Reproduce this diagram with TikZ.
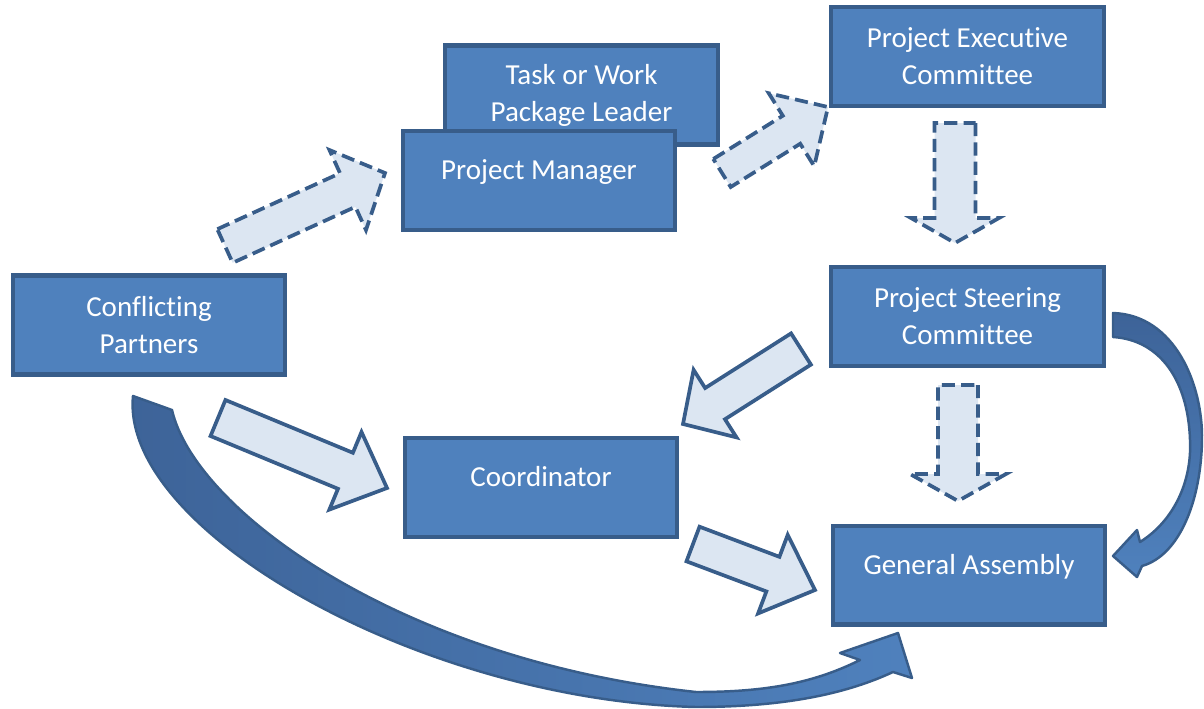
\documentclass[tikz,border=0pt]{standalone}
\usepackage{fontspec}
\setmainfont{Carlito}[Ligatures=NoCommon]
\usetikzlibrary{calc}

\definecolor{boxblue}{HTML}{4F81BD}
\definecolor{edgeblue}{HTML}{385D8A}
\definecolor{paleblue}{HTML}{DCE6F2}
\definecolor{deepblue}{HTML}{3D6398}

\tikzset{
  unitbox/.style={draw=edgeblue, fill=boxblue, line width=2.3pt, text=white,
    minimum width=5.45cm, minimum height=1.98cm, align=center,
    font=\fontsize{16.5}{21}\selectfont},
  onerow/.style={text height=12pt, text depth=13pt},
  flowarrow/.style={draw=edgeblue, fill=paleblue, line width=2.1pt},
  dashflow/.style={dash pattern=on 7.5pt off 3.5pt},
  sweep/.style={draw=edgeblue, line width=1.4pt, line join=round}
}

% block arrow: [opts]{tail}{tip}{half shaft}{half head}{head length}
\newcommand{\blockarrow}[6][]{%
  \coordinate (ba) at ($(#3)!#6!(#2)$);
  \draw[flowarrow,#1] ($(#2)!#4!90:(#3)$) -- ($(ba)!#4!90:(#3)$) -- ($(ba)!#5!90:(#3)$)
    -- (#3) -- ($(ba)!#5!-90:(#3)$) -- ($(ba)!#4!-90:(#3)$) -- ($(#2)!#4!-90:(#3)$) -- cycle;
}

\begin{document}
\begin{tikzpicture}[x=0.02cm, y=-0.02cm]
  \useasboundingbox (0,0) rectangle (1204,708);

  % boxes
  \node[unitbox] (task) at (581.5,95) {Task or Work\\Package Leader};
  \node[unitbox, onerow] (pm) at (539,180.5) {Project Manager};
  \node[unitbox] (exec) at (967.5,56.5) {Project Executive\\Committee};
  \node[unitbox] (steer) at (967.5,316.5) {Project Steering\\Committee};
  \node[unitbox] (cp) at (149,325) {Conflicting\\Partners};
  \node[unitbox, onerow] (coord) at (541,487.5) {Coordinator};
  \node[unitbox, onerow] (ga) at (969,575) {General Assembly};

  % arrow ends
  \coordinate (cp-pm-s) at (225,246);   \coordinate (cp-pm-e) at (385,173);
  \coordinate (pm-ex-s) at (722,173);   \coordinate (pm-ex-e) at (828,107);
  \coordinate (ex-st-s) at (955,123);   \coordinate (ex-st-e) at (955,243);
  \coordinate (st-ga-s) at (958,385);   \coordinate (st-ga-e) at (958,501);
  \coordinate (cp-co-s) at (218,418);   \coordinate (cp-co-e) at (387,488);
  \coordinate (st-co-s) at (801,349);   \coordinate (st-co-e) at (683,424);
  \coordinate (co-ga-s) at (693,544);   \coordinate (co-ga-e) at (815,590);

  \blockarrow[dashflow]{cp-pm-s}{cp-pm-e}{0.37cm}{0.88cm}{0.82cm}
  \blockarrow[dashflow]{pm-ex-s}{pm-ex-e}{0.33cm}{0.86cm}{0.86cm}
  \blockarrow[dashflow]{ex-st-s}{ex-st-e}{0.41cm}{0.88cm}{0.5cm}
  \blockarrow[dashflow]{st-ga-s}{st-ga-e}{0.4cm}{0.96cm}{0.54cm}
  \blockarrow{cp-co-s}{cp-co-e}{0.39cm}{0.84cm}{0.9cm}
  \blockarrow{st-co-s}{st-co-e}{0.37cm}{0.8cm}{0.76cm}
  \blockarrow{co-ga-s}{co-ga-e}{0.37cm}{0.84cm}{0.9cm}

  % curved arrows
  \path[sweep, left color=deepblue, right color=boxblue]
    (133,396) .. controls (120,530) and (420,700) .. (696,707)
    .. controls (790,707) and (850,692) .. (893,672)
    -- (912,678) -- (898,633) -- (840,653) -- (860,660)
    .. controls (810,685) and (760,692) .. (696,692)
    .. controls (400,660) and (195,510) .. (172,410) -- cycle;
  \path[sweep, top color=deepblue, bottom color=boxblue]
    (1113,313) .. controls (1175,315) and (1203,385) .. (1202,440)
    .. controls (1201,500) and (1180,555) .. (1142,566)
    -- (1137,577) -- (1113,556) -- (1137,530) -- (1140,542)
    .. controls (1175,520) and (1192,480) .. (1190,440)
    .. controls (1188,380) and (1160,340) .. (1113,337) -- cycle;
\end{tikzpicture}
\end{document}
